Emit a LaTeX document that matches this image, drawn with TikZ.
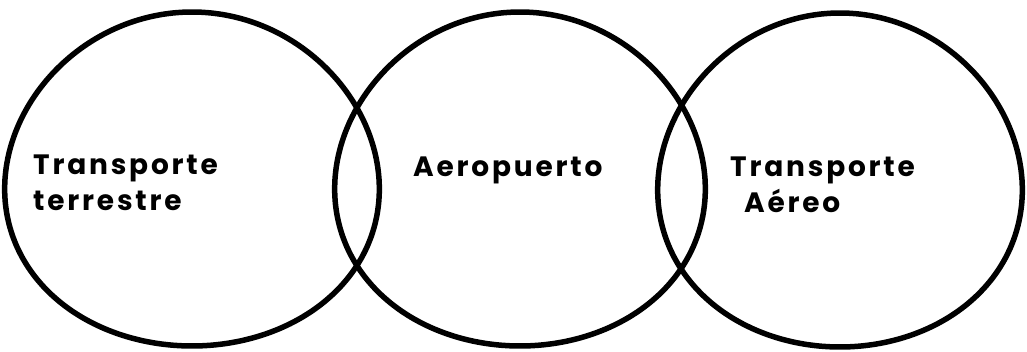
\documentclass[tikz,border=0pt]{standalone}
\usepackage{fontspec}
\setmainfont{Poppins}
\begin{document}
\begin{tikzpicture}[x=1pt,y=-1pt,
  setring/.style={draw=black,line width=5.5pt,line join=round},
  lbl/.style={inner sep=0pt,align=left,font=\fontsize{28}{36}\selectfont\bfseries\addfontfeature{LetterSpace=10}}]
\useasboundingbox[fill=white] (0,0) rectangle (1027,352);
\draw[setring] plot[smooth cycle,domain=0:356,samples=90,variable=\t]
  ({192+187*cos(\t)*(1+0.06*sin(\t))},{179+167*sin(\t)});
\draw[setring] plot[smooth cycle,domain=0:356,samples=90,variable=\t]
  ({520+185*cos(\t)*(1+0.06*sin(\t))},{179+167*sin(\t)});
\draw[setring] plot[smooth cycle,domain=0:356,samples=90,variable=\t]
  ({840+182*cos(\t)*(1+0.06*sin(\t))},{180+167*sin(\t)});
\node[lbl,anchor=west] (tierra) at (33,183) {Transporte\\terrestre};
\node[lbl,anchor=base west] (aero) at (413,177) {Aeropuerto};
\node[lbl,anchor=west] (aire) at (730,185) {Transporte\\\hspace*{14pt}Aéreo};
\end{tikzpicture}
\end{document}
